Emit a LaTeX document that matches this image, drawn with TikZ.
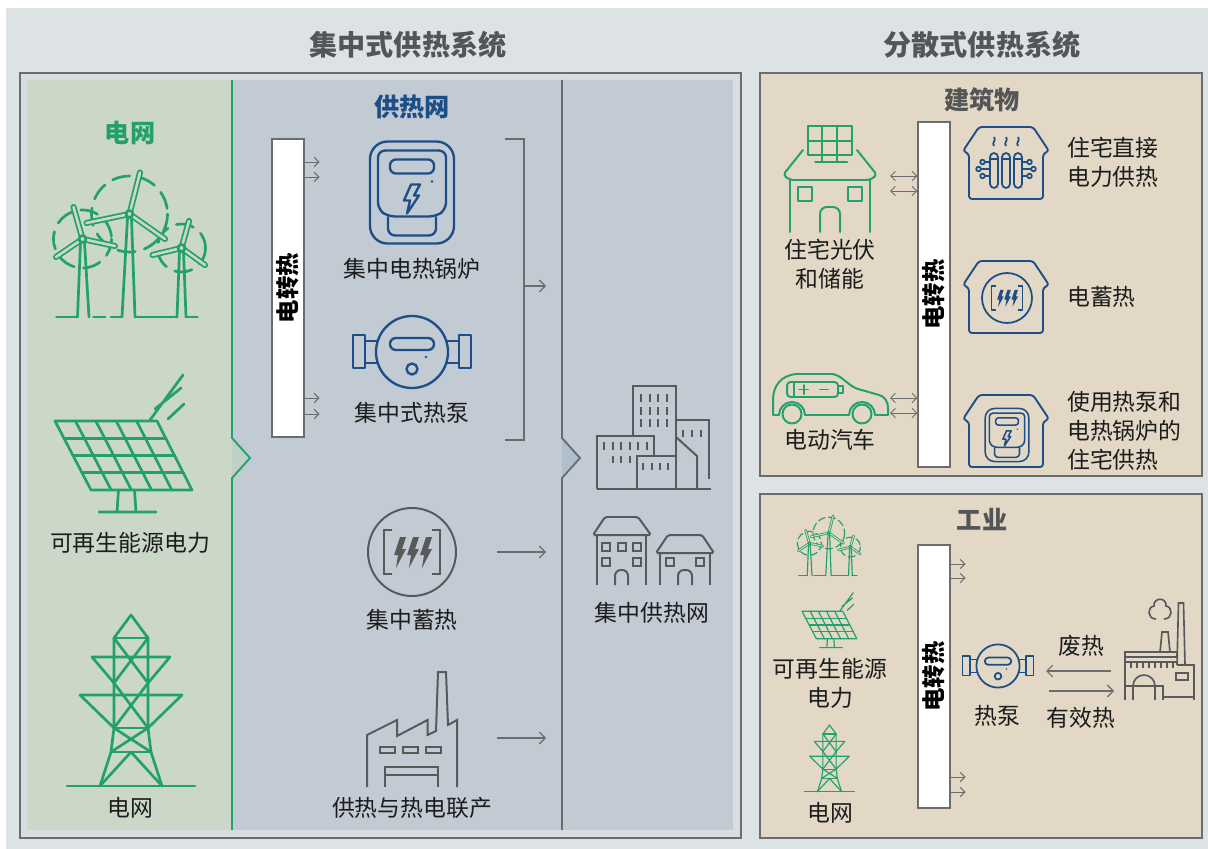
\documentclass[tikz,border=0pt]{standalone}
\usepackage{fontspec}
\setmainfont{Noto Sans CJK SC}
\usetikzlibrary{arrows.meta}

\definecolor{pagebg}{HTML}{DDE2E5}
\definecolor{framebg}{HTML}{D8DDE0}
\definecolor{gridbg}{HTML}{CCD8C7}
\definecolor{gridtip}{HTML}{BFD1C6}
\definecolor{netbg}{HTML}{C2CAD4}
\definecolor{nettip}{HTML}{AFBFCC}
\definecolor{sandbg}{HTML}{E2D8C5}
\definecolor{leafgreen}{HTML}{23A16C}
\definecolor{inkblue}{HTML}{1E4E86}
\definecolor{icongray}{HTML}{58595B}
\definecolor{edgegray}{HTML}{6A6C6E}
\definecolor{headgray}{HTML}{545556}
\definecolor{txt}{HTML}{1C1C1C}

\tikzset{
  lbl/.style={font=\fontsize{19.5}{24.5}\selectfont, text=txt, inner sep=0pt, align=center},
  ttl/.style={font=\bfseries\fontsize{24}{28}\selectfont, text=headgray, inner sep=0pt},
  hdr/.style={font=\bfseries\fontsize{21.5}{26}\selectfont, inner sep=0pt},
  p2hbar/.style={draw=edgegray, fill=white, line width=0.9pt, rotate=90, inner sep=0pt,
    minimum height=0.96cm, font=\bfseries\fontsize{20}{24}\selectfont, text=black},
  box/.style={draw=edgegray, line width=1.1pt},
  feed/.style={edgegray, line width=0.8pt, -{Straight Barb[length=4pt,width=8pt]}},
  swap/.style={edgegray, line width=0.8pt,
    {Straight Barb[length=4pt,width=8pt]}-{Straight Barb[length=4pt,width=8pt]}},
  flow/.style={edgegray, line width=1pt, -{Straight Barb[length=5pt,width=10pt]}},
  green icon/.style={leafgreen, line width=2.3pt, line cap=round, line join=round},
  blue icon/.style={inkblue, line width=2pt, line join=round},
  gray icon/.style={icongray, line width=1.7pt},
  rotor/.style={dash pattern=on 15pt off 8pt},
  blade/.style={double=gridbg, double distance=2.2pt, line width=1.5pt},
  hub/.style={fill=gridbg},
  shell/.style={rounded corners=15pt},
  inner/.style={rounded corners=6pt},
  slot/.style={rounded corners=5pt},
  % three turbines, origin at the middle of the ground line
  windfarm/.pic={
    \draw[rotor] (-44,-78) circle (29) (3,-103) circle (38) (55,-69) circle (24);
    \draw (-46,-75) -- (-49,0) (-42,-75) -- (-37.5,0)
          (1,-99) -- (-4.5,0) (5,-99) -- (8.5,0)
          (53,-66) -- (50.5,0) (57,-66) -- (59.5,0);
    \draw (-70,0) -- (-49,0) (8.5,0) -- (50.5,0) (59.5,0) -- (71,0);
    \draw[dash pattern=on 10pt off 5pt] (-33,0) -- (-6,0);
    \foreach \hx/\hy/\tx/\ty in {-44/-78/-53/-110, -44/-78/-11.5/-71, -44/-78/-70.5/-60,
        3/-103/13.5/-144.5, 3/-103/-40/-94, 3/-103/38.5/-78,
        55/-69/62.5/-96, 55/-69/26/-62, 55/-69/78.5/-52}
      \draw[blade] (\hx,\hy) -- (\tx,\ty);
    \foreach \hx/\hy in {-44/-78, 3/-103, 55/-69}
      \filldraw[hub] (\hx,\hy) circle (3.5);
  },
  % tilted panel on a stand, origin top left
  solarpanel/.pic={
    \draw (0,48) -- (102,48) -- (137,117) -- (36,117) -- cycle;
    \foreach \i in {1,...,4} \draw ({102*\i/5},48) -- ({36+101*\i/5},117);
    \foreach \j in {1,2,3} \draw ({9*\j},{48+17.25*\j}) -- ({102+8.75*\j},{48+17.25*\j});
    \draw (63.5,117) -- (62,139) (79.5,117) -- (81,139) (44,139) -- (101,139);
    \draw (95,47) -- (128,2) (100,36) -- (126,15) (113,46) -- (129,31);
  },
  % lattice tower, origin at the middle of the ground line
  pylon/.pic={
    \draw (-64,0) -- (64,0);
    \draw (-31,0) -- (-20,-34) -- (-17,-58) -- (-17,-148) -- (0,-171) -- (17,-148)
          -- (17,-58) -- (20,-34) -- (31,0);
    \draw (-31,0) -- (0,-34) -- (31,0);
    \draw (-20,-34) -- (20,-34) (-17,-58) -- (17,-58) (-17,-148) -- (17,-148);
    \draw (-17,-103) -- (-39,-129) -- (39,-129) -- (17,-103);
    \draw (-17,-58) -- (-51,-91) -- (51,-91) -- (17,-58);
    \draw (-17,-148) -- (17,-103) -- (-17,-58) -- (20,-34)
          (17,-148) -- (-17,-103) -- (17,-58) -- (-20,-34);
  },
  boiler/.pic={
    \draw[shell] (-42,-51) rectangle (42,51);
    \draw[inner] (-24,24) -- (-34,17) -- (-34,-42) -- (34,-42) -- (34,17) -- (24,24) -- cycle;
    \draw[inner] (-24,24) -- (-24,43) -- (24,43) -- (24,24);
    \draw[slot] (-22,-33) rectangle (22,-19);
    \fill (20,-11) circle (1.4);
    \draw (-1,-8) -- (8,-8) -- (2,3) -- (7,3) -- (-5,21) -- (-2,8) -- (-8,8) -- cycle;
  },
  heatpump/.pic={
    \draw (0,0) circle (36);
    \draw (-59,-17) rectangle (-47,16) (47,-17) rectangle (59,16);
    \draw (-47,-11) -- (-34.3,-11) (-47,11) -- (-34.3,11)
          (47,-11) -- (34.3,-11) (47,11) -- (34.3,11);
    \draw[slot] (-22,-14) rectangle (22,-2);
    \draw (0,17) circle (5.5);
    \fill (14,5) circle (1.4);
  },
  boltset/.pic={
    \draw (-20,-22) -- (-28,-22) -- (-28,22) -- (-20,22);
    \draw (20,-22) -- (28,-22) -- (28,22) -- (20,22);
    \foreach \bx in {-13,0,13}
      \fill (\bx+1,-15) -- (\bx+7,-15) -- (\bx+3,-3) -- (\bx+7,-3) -- (\bx-3,16)
            -- (\bx-1,3) -- (\bx-5,3) -- cycle;
  },
  bhouse/.pic={
    \draw[rounded corners=2.5] (-37,36) -- (-37,-9) -- (-43,-12) -- (-27,-36) -- (27,-36)
          -- (43,-12) -- (37,-9) -- (37,36) -- cycle;
  },
  rodset/.pic={
    \foreach \rx in {-12,0,12} {
      \draw[rounded corners=3.5] (\rx-4,-10) rectangle (\rx+4,25);
      \draw (\rx-4,-4) -- (\rx+4,-4);
      \draw (\rx,-17) .. controls (\rx-3,-20) and (\rx+3,-23) .. (\rx,-26);
    }
    \foreach \sx in {-1,1} {
      \draw (16*\sx,-1) -- (21*\sx,-1) (16*\sx,6) -- (25*\sx,6) (16*\sx,13) -- (21*\sx,13);
      \draw (23.5*\sx,-1) circle (2.3) (27.5*\sx,6) circle (2.3) (23.5*\sx,13) circle (2.3);
    }
  },
}

\begin{document}
\begin{tikzpicture}[x=0.03cm, y=-0.03cm]
\useasboundingbox (0,0) rectangle (1208,849);
\fill[white] (0,0) rectangle (1208,849);
\fill[pagebg] (6,8) rectangle (1208,849);

% headings
\node[ttl] (cenTitle) at (408,45) {集中式供热系统};
\node[ttl] (decTitle) at (982,45) {分散式供热系统};

% centralised frame with its three columns
\draw[box, fill=framebg] (20,73) rectangle (741,838);
\fill[netbg] (232,80) rectangle (733,830);
\fill[gridbg] (27,80) rectangle (232,830);
\fill[gridtip] (232,438) -- (250,458) -- (232,478) -- cycle;
\fill[nettip] (562,438) -- (580,458) -- (562,478) -- cycle;
\draw[leafgreen, line width=1.6pt] (232,80) -- (232,438) -- (250,458) -- (232,478) -- (232,830);
\draw[edgegray, line width=1.6pt] (562,80) -- (562,438) -- (580,458) -- (562,478) -- (562,830);

% decentralised boxes
\draw[box, fill=sandbg] (760,73) rectangle (1202,476);
\draw[box, fill=sandbg] (760,494) rectangle (1202,838);

% --- power grid column
\node[hdr, leafgreen] (gridHdr) at (130,133) {电网};
\pic[green icon] at (126.5,317) {windfarm};
\pic[green icon] at (55,373) {solarpanel};
\node[lbl] (renewLbl) at (130,543) {可再生能源电力};
\pic[green icon] at (131,786) {pylon};
\node[lbl] (gridLbl) at (130,808) {电网};

% --- heat network column
\node[hdr, inkblue] (netHdr) at (412,107) {供热网};
\node[p2hbar, minimum width=8.94cm] (barNet) at (288,288) {电转热};
\foreach \ay in {162,177,398,414}
  \draw[feed] (barNet.south |- 0,\ay) -- ++(15,0);
\pic[blue icon] at (412,192.5) {boiler};
\node[lbl] (boilerLbl) at (412,269) {集中电热锅炉};
\pic[blue icon] at (412,352) {heatpump};
\node[lbl] (pumpLbl) at (412,413) {集中式热泵};
\draw[edgegray, line width=1.2pt] (505,139) -- (524,139) -- (524,440) -- (505,440);
\coordinate (brk) at (524,286);
\coordinate (cityA) at (546,286);
\draw[flow] (brk) -- (cityA);

\draw[gray icon] (412,552) circle (44);
\pic[gray icon] at (412,552) {boltset};
\node[lbl] (storeLbl) at (412,620) {集中蓄热};
\coordinate (storeOut) at (497,552);
\coordinate (cityB) at (546,552);
\draw[flow] (storeOut) -- (cityB);

% combined heat and power plant
\begin{scope}[gray icon]
  \draw (367,787) -- (367,735) -- (397,720) -- (397,736) -- (427.5,720) -- (427.5,735)
        -- (436,731) -- (438,672) -- (446,672) -- (448,725) -- (457,720) -- (457,787);
  \draw (380,747) rectangle (395,753) (403,747) rectangle (418,753) (426,747) rectangle (441,753);
  \draw (385,787) -- (385,767) -- (438,767) -- (438,787) (385,775) -- (438,775);
\end{scope}
\node[lbl] (chpLbl) at (412,808) {供热与热电联产};
\coordinate (chpOut) at (497,738);
\coordinate (cityC) at (546,738);
\draw[flow] (chpOut) -- (cityC);

% --- district heating column
\begin{scope}[gray icon]
  \draw (633,436) -- (633,386) -- (676,386) -- (676,489);
  \draw (597,489) -- (597,436) -- (654,436) -- (654,456);
  \draw (637,489) -- (637,456) -- (676,456);
  \draw (676,420) -- (709,420) -- (709,479);
  \draw (676,437) -- (697,456) -- (697,489);
  \draw (597,489) -- (711,489);
  \foreach \wx in {641,650,658,667} \foreach \wy in {394,407,419} \draw (\wx,\wy) -- ++(0,7.5);
  \foreach \wx in {604,613,621,630,638,647} \draw (\wx,442) -- ++(0,8);
  \foreach \wx in {613,621,630} \draw (\wx,456) -- ++(0,7);
  \foreach \wx in {643,652,660,668} \draw (\wx,463) -- ++(0,7);
  \foreach \wx in {683,692,701} \draw (\wx,430) -- ++(0,7);
  % two houses
  \draw[rounded corners=1.5] (593,535) -- (605,517) -- (638,517) -- (651,535) -- cycle;
  \draw (597,535) -- (597,585) (646,535) -- (646,585);
  \foreach \wx/\wy in {602/543, 618/543, 633/543, 602/558, 633/558}
    \draw (\wx,\wy) rectangle ++(8,8);
  \draw[rounded corners=5] (615,585) -- (615,570) -- (628,570) -- (628,585);
  \draw[rounded corners=1.5] (656,553) -- (668,535) -- (702,535) -- (714,553) -- cycle;
  \draw (660,553) -- (660,585) (710,553) -- (710,585);
  \draw (666,558) rectangle ++(8,8) (696,558) rectangle ++(8,8);
  \draw[rounded corners=5] (678,585) -- (678,570) -- (692,570) -- (692,585);
\end{scope}
\node[lbl] (cityLbl) at (652,613) {集中供热网};

% --- buildings
\node[hdr, headgray] (bldHdr) at (982,100) {建筑物};
\begin{scope}[green icon, line width=1.7pt]
  \draw (808,126) rectangle (852,155);
  \draw (822,126) -- (822,162) (837,126) -- (837,162) (808,141) -- (852,141);
  \draw (815,162) -- (847,162);
  \draw[rounded corners=3] (803,150) -- (783,175) -- (790,180) -- (870,180) -- (877,175) -- (857,150);
  \draw (790,180) -- (790,232) (870,180) -- (870,232);
  \draw (798,187) rectangle (812,201) (848,187) rectangle (862,201);
  \draw[rounded corners=6] (820,232) -- (820,207) -- (840,207) -- (840,232);
\end{scope}
\node[lbl] (pvLbl) at (830,264) {住宅光伏\\和储能};
\begin{scope}[green icon, line width=1.7pt]
  \draw (779,415) -- (773,415) -- (773,400) .. controls (773,386) and (781,375) .. (797,374)
        -- (832,374) .. controls (842,375) and (848,386) .. (858,389) -- (879,395)
        .. controls (886,397) and (888,403) .. (888,408) -- (888,415) -- (875,415)
        arc[start angle=0, end angle=-180, radius=13] -- (805,415)
        arc[start angle=0, end angle=-180, radius=13];
  \draw (792,414) circle (9.5) (862,414) circle (9.5);
  \draw[rounded corners=3] (787,382) rectangle (838,397);
  \draw (838,386) rectangle (843,393) (794,382) -- (794,397);
  \draw (799,389.5) -- (808,389.5) (803.5,385) -- (803.5,394) (820,389.5) -- (828,389.5);
\end{scope}
\node[lbl] (evLbl) at (830,440) {电动汽车};
\node[p2hbar, minimum width=10.35cm] (barBld) at (934,294.5) {电转热};
\foreach \ay in {176,191,398,413}
  \draw[swap] (890,\ay) -- (barBld.north |- 0,\ay);

\pic[blue icon, line width=1.6pt] at (1006,163) {bhouse};
\pic[blue icon, line width=1.5pt] at (1006,163) {rodset};
\node[lbl, anchor=west, align=left] (directLbl) at (1067,162) {住宅直接\\电力供热};
\pic[blue icon, line width=1.6pt] at (1006,297) {bhouse};
\draw[blue icon, line width=1.5pt] (1007,298) circle (25);
\pic[blue icon, line width=1.3pt, scale=0.55] at (1007,298) {boltset};
\node[lbl, anchor=west, align=left] (storeHomeLbl) at (1067,297) {电蓄热};
\pic[blue icon, line width=1.6pt] at (1006,431) {bhouse};
\pic[blue icon, line width=1.3pt, scale=0.52, shell/.style={rounded corners=8pt},
     inner/.style={rounded corners=3pt}, slot/.style={rounded corners=2.5pt}] at (1007,435) {boiler};
\node[lbl, anchor=west, align=left] (mixLbl) at (1067,431) {使用热泵和\\电热锅炉的\\住宅供热};

% --- industry
\node[hdr, headgray] (indHdr) at (982,520) {工业};
\pic[green icon, line width=1pt, scale=0.415, rotor/.style={dash pattern=on 6pt off 3pt},
     blade/.style={double=sandbg, double distance=0.8pt, line width=0.7pt},
     hub/.style={fill=sandbg}] at (827.6,575.7) {windfarm};
\pic[green icon, line width=1pt, scale=0.4] at (802,592) {solarpanel};
\node[lbl] (renewIndLbl) at (830,683) {可再生能源\\电力};
\pic[green icon, line width=1pt, scale=0.39] at (829.5,791.7) {pylon};
\node[lbl] (gridIndLbl) at (830,813) {电网};
\node[p2hbar, minimum width=7.89cm] (barInd) at (934,676.5) {电转热};
\foreach \ay in {564,578,777,792}
  \draw[feed] (barInd.south |- 0,\ay) -- ++(15,0);
\pic[blue icon, line width=1.5pt, scale=0.6, slot/.style={rounded corners=3pt}] at (998,666) {heatpump};
\node[lbl] (pumpIndLbl) at (997,716) {热泵};
\node[lbl] (wasteLbl) at (1081,646) {废热};
\node[lbl] (usefulLbl) at (1081,718) {有效热};
\coordinate (plantOut) at (1111,671);
\coordinate (pumpIn) at (1046,671);
\coordinate (pumpOut) at (1049,691);
\coordinate (plantIn) at (1114,691);
\draw[flow] (plantOut) -- (pumpIn);
\draw[flow] (pumpOut) -- (plantIn);
\begin{scope}[gray icon, line width=1.4pt]
  \draw (1156,619) .. controls (1147,619) and (1147,607) .. (1154,606)
        .. controls (1153,597) and (1167,597) .. (1166,606)
        .. controls (1173,607) and (1173,619) .. (1164,619);
  \draw (1177,665) -- (1178.5,603) -- (1183.5,603) -- (1185,665);
  \draw (1160,652) -- (1162,632) -- (1168,632) -- (1170,652);
  \draw (1125,700) -- (1125,652) -- (1177,652) -- (1177,657) -- (1125,657);
  \draw (1125,662) -- (1177,662);
  \foreach \tx in {1131,1137,...,1173} \draw (\tx,662) -- (\tx,668);
  \draw (1125,686) -- (1163,686) -- (1163,700);
  \draw (1133,700) -- (1133,686) arc[start angle=180, end angle=360, radius=11] -- (1155,700);
  \draw (1177,665) -- (1194,665) -- (1194,700) (1163,697) -- (1194,697);
  \draw (1176,673) rectangle (1188,680);
\end{scope}
\end{tikzpicture}
\end{document}
